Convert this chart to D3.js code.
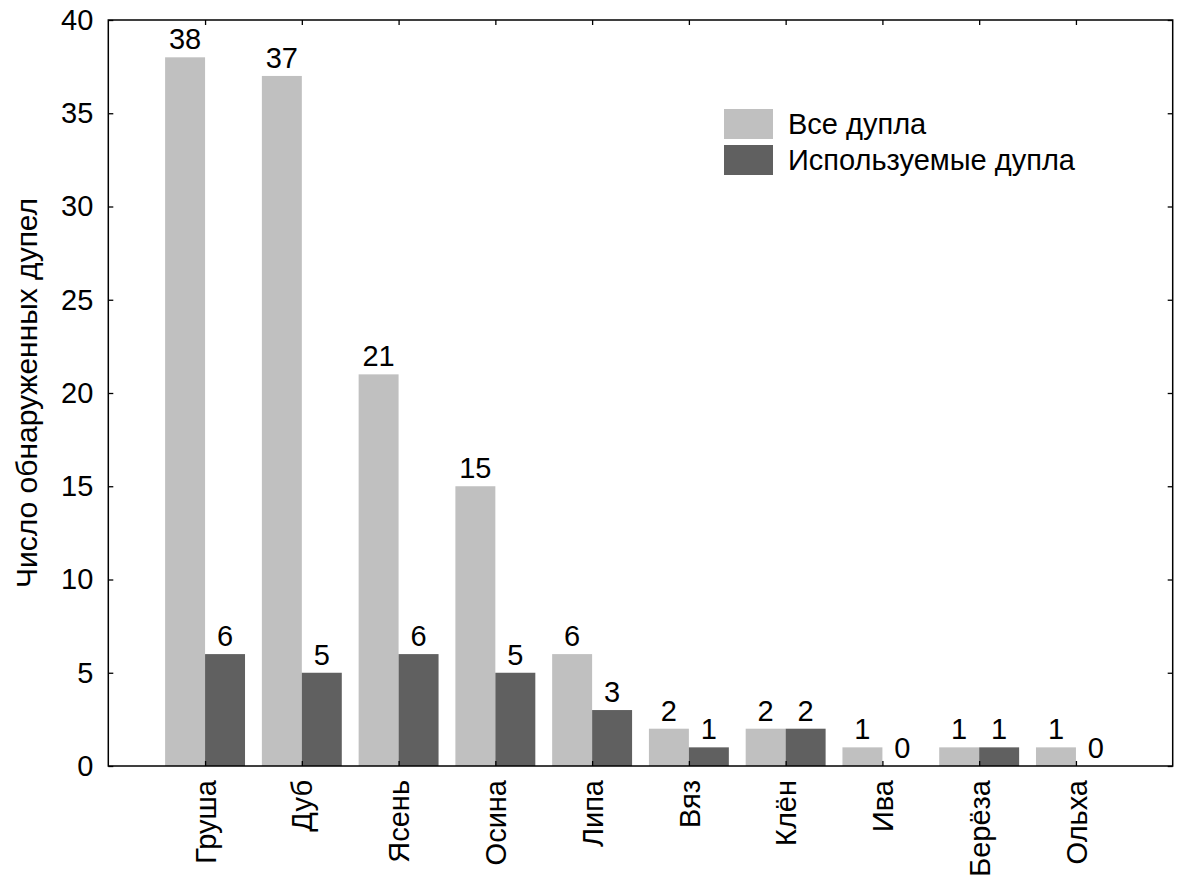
<!DOCTYPE html>
<html><head><meta charset="utf-8">
<script src="https://cdn.jsdelivr.net/npm/d3@7"></script>
<style>body{margin:0;background:#fff}svg{display:block}</style>
</head><body>
<script>
const categories = ["Груша","Дуб","Ясень","Осина","Липа","Вяз","Клён","Ива","Берёза","Ольха"];
const allHollows = [38,37,21,15,6,2,2,1,1,1];
const usedHollows = [6,5,6,5,3,1,2,0,1,0];
const seriesNames = ["Все дупла","Используемые дупла"];
const yTicks = [0,5,10,15,20,25,30,35,40];
const colors = ["#c0c0c0","#606060"];

const W=1178,H=882;
const L=108.3,R=1172.7,T=20,B=766;
const font = "'Liberation Sans', Arial, sans-serif";
const fs = 29;
const svg=d3.select("body").append("svg").attr("width",W).attr("height",H);
const x=d3.scaleLinear().domain([0,categories.length+1]).range([L,R]);
const y=d3.scaleLinear().domain([0,40]).range([B,T]);
const step = x(1)-x(0);
const bw = step*0.413;

// bars
const g=svg.append("g");
categories.forEach((c,i)=>{
  const cx=x(i+1);
  [allHollows[i],usedHollows[i]].forEach((v,s)=>{
    const x0 = s===0 ? cx-bw : cx;
    g.append("rect").attr("x",x0).attr("y",y(v)).attr("width",bw).attr("height",y(0)-y(v)).attr("fill",colors[s]);
    g.append("text").attr("x",x0+bw/2).attr("y",y(v)-8).attr("text-anchor","middle")
      .attr("font-family",font).attr("font-size",fs).attr("fill","#000").text(v);
  });
});

// axes
const tickVals = categories.map((c,i)=>i+1);
svg.append("g").attr("transform",`translate(0,${B})`)
  .call(d3.axisBottom(x).tickValues(tickVals).tickSizeInner(-5).tickSizeOuter(0).tickFormat(d=>categories[d-1]))
  .call(a=>{a.select(".domain").remove();
    a.selectAll("text").attr("font-family",font).attr("font-size",fs).attr("fill","#000")
     .attr("transform","rotate(-90)").attr("text-anchor","end").attr("x",-14).attr("y",0).attr("dy","0.35em");});
svg.append("g").attr("transform",`translate(0,${T})`)
  .call(d3.axisTop(x).tickValues(tickVals).tickSizeInner(-5).tickSizeOuter(0).tickFormat(""))
  .call(a=>a.select(".domain").remove());
svg.append("g").attr("transform",`translate(${L},0)`)
  .call(d3.axisLeft(y).tickValues(yTicks).tickSizeInner(-5).tickSizeOuter(0))
  .call(a=>{a.select(".domain").remove();
    a.selectAll("text").attr("font-family",font).attr("font-size",fs).attr("fill","#000").attr("x",-15);});
svg.append("g").attr("transform",`translate(${R},0)`)
  .call(d3.axisRight(y).tickValues(yTicks).tickSizeInner(-5).tickSizeOuter(0).tickFormat(""))
  .call(a=>a.select(".domain").remove());
svg.selectAll(".tick line").attr("stroke","#000").attr("stroke-width",1.3);
svg.append("rect").attr("x",L).attr("y",T).attr("width",R-L).attr("height",B-T)
  .attr("fill","none").attr("stroke","#000").attr("stroke-width",1.5);

// y title
svg.append("text").attr("transform",`translate(37,${(T+B)/2}) rotate(-90)`).attr("text-anchor","middle")
  .attr("font-family",font).attr("font-size",30).attr("fill","#000").text("Число обнаруженных дупел");

// legend
const lg=svg.append("g").attr("transform","translate(724,109)");
seriesNames.forEach((n,i)=>{
  lg.append("rect").attr("x",0).attr("y",i*36).attr("width",49).attr("height",30).attr("fill",colors[i]);
  lg.append("text").attr("x",64).attr("y",i*36+15).attr("dy","0.35em")
    .attr("font-family",font).attr("font-size",fs).attr("fill","#000").text(n);
});
</script>
</body></html>
